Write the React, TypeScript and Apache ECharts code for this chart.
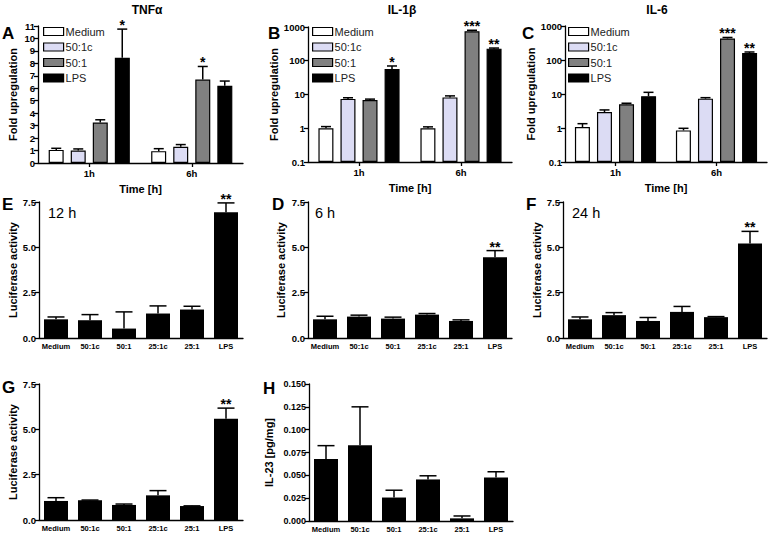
import React, { useEffect, useRef } from 'react';
import * as echarts from 'echarts';

const FONT = '"Liberation Sans", Arial, sans-serif';

// ---------- Data ----------
const timeCats = ['1h', '6h'];
const groupNames = ['Medium', '50:1c', '50:1', 'LPS'];
const groupColors = ['#ffffff', '#dcdcf4', '#808080', '#000000'];

// TNFα (rows: Medium, 50:1c, 50:1, LPS; cols: 1h, 6h)
const tnfValues = [[1.05, 0.95], [1.0, 1.3], [3.25, 6.7], [8.45, 6.2]];
const tnfErrors = [[0.13, 0.2], [0.13, 0.18], [0.22, 1.05], [2.3, 0.38]];
const tnfStars = [['', ''], ['', ''], ['', '*'], ['*', '']];

// IL-1β
const il1Values = [[1.0, 1.0], [7.4, 8.2], [6.9, 750], [57, 228]];
const il1Errors = [[0.12, 0.1], [0.6, 0.9], [0.4, 50], [13, 10]];
const il1Stars = [['', ''], ['', ''], ['', '***'], ['*', '**']];

// IL-6
const il6Values = [[1.07, 0.85], [2.95, 7.3], [5.0, 430], [8.6, 160]];
const il6Errors = [[0.27, 0.13], [0.45, 0.5], [0.35, 30], [2.6, 12]];
const il6Stars = [['', ''], ['', ''], ['', '***'], ['', '**']];

// Luciferase / IL-23
const treatCats = ['Medium', '50:1c', '50:1', '25:1c', '25:1', 'LPS'];
const luc12hValues = [1.03, 0.98, 0.52, 1.35, 1.57, 6.93];
const luc12hErrors = [0.13, 0.31, 0.92, 0.42, 0.18, 0.52];
const luc6hValues = [1.03, 1.18, 1.07, 1.29, 0.94, 4.45];
const luc6hErrors = [0.17, 0.08, 0.08, 0.06, 0.06, 0.37];
const luc24hValues = [1.03, 1.26, 0.94, 1.44, 1.15, 5.21];
const luc24hErrors = [0.13, 0.14, 0.19, 0.3, 0.03, 0.67];
const lucGValues = [1.05, 1.09, 0.83, 1.36, 0.77, 5.58];
const lucGErrors = [0.18, 0.01, 0.05, 0.26, 0.01, 0.59];
const lucStars = ['', '', '', '', '', '**'];
const il23Values = [0.068, 0.083, 0.0257, 0.0455, 0.0029, 0.0477];
const il23Errors = [0.0145, 0.042, 0.008, 0.004, 0.0026, 0.0062];

const lucTicks = [0, 2.5, 5.0, 7.5];
const il23Ticks = [0, 0.025, 0.05, 0.075, 0.1, 0.125, 0.15];

// ---------- Helpers ----------
const axisLine = { show: true, lineStyle: { color: '#000', width: 1.3 } };
const yTick = { show: true, length: 4, lineStyle: { color: '#000', width: 1.3 } };
const tickLabel = (size: number) => ({ color: '#000', fontFamily: FONT, fontWeight: 'bold' as const, fontSize: size, margin: 3 });
const nameStyle = { color: '#000', fontFamily: FONT, fontWeight: 'bold' as const, fontSize: 11 };

function errorSeries(axisIdx: number, items: any[], stars: string[], pitch: number, nGroups: number, capHalf: number, starSize: number) {
  return {
    type: 'custom',
    xAxisIndex: axisIdx,
    yAxisIndex: axisIdx,
    z: 5,
    silent: true,
    encode: { x: 0, y: 1 },
    data: items,
    renderItem: (params: any, api: any) => {
      const cat = api.value(0);
      const v = api.value(1);
      const e = api.value(2);
      const g = api.value(3);
      const p0 = api.coord([cat, v]);
      const p1 = api.coord([cat, v + e]);
      const x = p0[0] + (g - (nGroups - 1) / 2) * pitch;
      const children: any[] = [];
      if (e > 0) {
        children.push({ type: 'line', shape: { x1: x, y1: p0[1], x2: x, y2: p1[1] }, style: { stroke: '#000', lineWidth: 1.5 } });
        children.push({ type: 'line', shape: { x1: x - capHalf, y1: p1[1], x2: x + capHalf, y2: p1[1] }, style: { stroke: '#000', lineWidth: 1.5 } });
      }
      const s = stars[params.dataIndex];
      if (s) {
        children.push({
          type: 'text',
          x,
          y: p1[1] + 3,
          style: { text: s, fill: '#000', font: `bold ${starSize}px ${FONT}`, align: 'center', verticalAlign: 'bottom' },
        });
      }
      return { type: 'group', children };
    },
  };
}

function groupedErrItems(values: number[][], errors: number[][]) {
  const items: number[][] = [];
  values.forEach((row, g) => row.forEach((v, c) => items.push([c, v, errors[g][c], g])));
  return items;
}
function groupedStarList(stars: string[][]) {
  const list: string[] = [];
  stars.forEach((row) => row.forEach((s) => list.push(s)));
  return list;
}

export default function App() {
  const ref = useRef<HTMLDivElement>(null);
  useEffect(() => {
    if (!ref.current) return;
    const chart = echarts.init(ref.current, undefined, { renderer: 'svg' });

    const grids = [
      { left: 38, top: 26, width: 205, height: 137 }, // A
      { left: 308, top: 27, width: 204, height: 135 }, // B
      { left: 565, top: 26, width: 202, height: 136 }, // C
      { left: 39, top: 202, width: 204, height: 136 }, // E
      { left: 308, top: 202, width: 204, height: 136 }, // D
      { left: 563, top: 202, width: 204, height: 136 }, // F
      { left: 39, top: 384, width: 204, height: 136 }, // G
      { left: 309, top: 384, width: 204, height: 137 }, // H
    ];

    const xAxes: any[] = [];
    const yAxes: any[] = [];
    const series: any[] = [];

    // Top row panels
    const topPanels = [
      { values: tnfValues, errors: tnfErrors, stars: tnfStars, log: false, gap: 20 },
      { values: il1Values, errors: il1Errors, stars: il1Stars, log: true, gap: 24 },
      { values: il6Values, errors: il6Errors, stars: il6Stars, log: true, gap: 22 },
    ];
    topPanels.forEach((p, i) => {
      xAxes.push({
        type: 'category', gridIndex: i, data: timeCats,
        axisLine, axisTick: { show: true, alignWithLabel: true, length: 4, lineStyle: { color: '#000', width: 1.3 } },
        axisLabel: { ...tickLabel(9.5), margin: 5 },
        name: 'Time [h]', nameLocation: 'middle', nameGap: 20, nameTextStyle: nameStyle,
      });
      yAxes.push(p.log
        ? {
            type: 'log', logBase: 10, gridIndex: i, min: 0.1, max: 1000, startValue: 0.1,
            axisLine, axisTick: yTick, splitLine: { show: false }, minorTick: { show: false },
            axisLabel: { ...tickLabel(9.5), formatter: (v: number) => (v < 1 ? v.toFixed(1) : String(Math.round(v))) },
            name: 'Fold upregulation', nameLocation: 'middle', nameGap: p.gap, nameTextStyle: nameStyle,
          }
        : {
            type: 'value', gridIndex: i, min: 0, max: 11, interval: 1,
            axisLine, axisTick: yTick, splitLine: { show: false },
            axisLabel: tickLabel(9.5),
            name: 'Fold upregulation', nameLocation: 'middle', nameGap: p.gap, nameTextStyle: nameStyle,
          });
      groupNames.forEach((gn, g) => {
        series.push({
          type: 'bar', name: gn, xAxisIndex: i, yAxisIndex: i,
          data: p.values[g], barWidth: 15, barGap: '47%',
          itemStyle: { color: groupColors[g], borderColor: '#000', borderWidth: 1.2 },
        });
      });
      series.push(errorSeries(i, groupedErrItems(p.values, p.errors), groupedStarList(p.stars), 22, 4, 5, 14));
    });

    // Lower panels
    const lowPanels = [
      { values: luc12hValues, errors: luc12hErrors, stars: lucStars, name: 'Luciferase activity', gap: 20, h: false },
      { values: luc6hValues, errors: luc6hErrors, stars: lucStars, name: 'Luciferase activity', gap: 22, h: false },
      { values: luc24hValues, errors: luc24hErrors, stars: lucStars, name: 'Luciferase activity', gap: 20, h: false },
      { values: lucGValues, errors: lucGErrors, stars: lucStars, name: 'Luciferase activity', gap: 19, h: false },
      { values: il23Values, errors: il23Errors, stars: ['', '', '', '', '', ''], name: 'IL-23 [pg/mg]', gap: 35, h: true },
    ];
    lowPanels.forEach((p, k) => {
      const i = k + 3;
      const ticks = p.h ? il23Ticks : lucTicks;
      xAxes.push({
        type: 'category', gridIndex: i, data: treatCats,
        axisLine, axisTick: { show: false },
        axisLabel: { ...tickLabel(7.5), margin: 4, interval: 0 },
      });
      yAxes.push({
        type: 'value', gridIndex: i, min: ticks[0], max: ticks[ticks.length - 1], interval: ticks[1] - ticks[0],
        axisLine, axisTick: yTick, splitLine: { show: false },
        axisLabel: { ...tickLabel(p.h ? 9 : 9.5), formatter: (v: number) => v.toFixed(p.h ? 3 : 1) },
        name: p.name, nameLocation: 'middle', nameGap: p.gap, nameTextStyle: nameStyle,
      });
      series.push({
        type: 'bar', name: 'panel' + i, xAxisIndex: i, yAxisIndex: i,
        data: p.values, barWidth: 24,
        itemStyle: { color: '#000' },
      });
      series.push(errorSeries(i, p.values.map((v, c) => [c, v, p.errors[c], 0]), p.stars, 0, 1, 8.5, 14));
    });

    const legendData = groupNames.map((n, g) => ({
      name: n, icon: 'rect',
      itemStyle: { color: groupColors[g], borderColor: '#000', borderWidth: 1.2 },
    }));
    const legendBase = {
      orient: 'vertical', top: 26, itemWidth: 20, itemHeight: 8, itemGap: 4.5,
      textStyle: { color: '#222', fontFamily: FONT, fontSize: 11, lineHeight: 11, padding: [0, 0, 0, -3] },
      data: legendData, selectedMode: false, padding: 0,
    };

    const txt = (text: string, x: number, y: number, size: number, bold: boolean, align = 'left') => ({
      type: 'text', x, y,
      style: { text, fill: '#000', font: `${bold ? 'bold ' : ''}${size}px ${FONT}`, align, verticalAlign: 'middle' },
    });

    chart.setOption({
      animation: false,
      backgroundColor: '#fff',
      grid: grids,
      xAxis: xAxes,
      yAxis: yAxes,
      series,
      legend: [
        { ...legendBase, left: 43 },
        { ...legendBase, left: 312 },
        { ...legendBase, left: 568 },
      ],
      graphic: [
        txt('TNFα', 147, 10, 12, true, 'center'),
        txt('IL-1β', 402, 10, 12, true, 'center'),
        txt('IL-6', 657, 10, 12, true, 'center'),
        txt('A', 2, 33, 17, true),
        txt('B', 268, 33, 17, true),
        txt('C', 522, 33, 17, true),
        txt('E', 2, 204, 17, true),
        txt('D', 272, 204, 17, true),
        txt('F', 526, 204, 17, true),
        txt('G', 2, 387, 17, true),
        txt('H', 263, 388, 17, true),
        txt('12 h', 48, 213, 14.5, false),
        txt('6 h', 315, 213, 14.5, false),
        txt('24 h', 572, 213, 14.5, false),
      ],
    });
    return () => chart.dispose();
  }, []);
  return <div ref={ref} style={{ position: 'fixed', left: 0, top: 0, width: 771, height: 534, background: '#fff' }} />;
}
